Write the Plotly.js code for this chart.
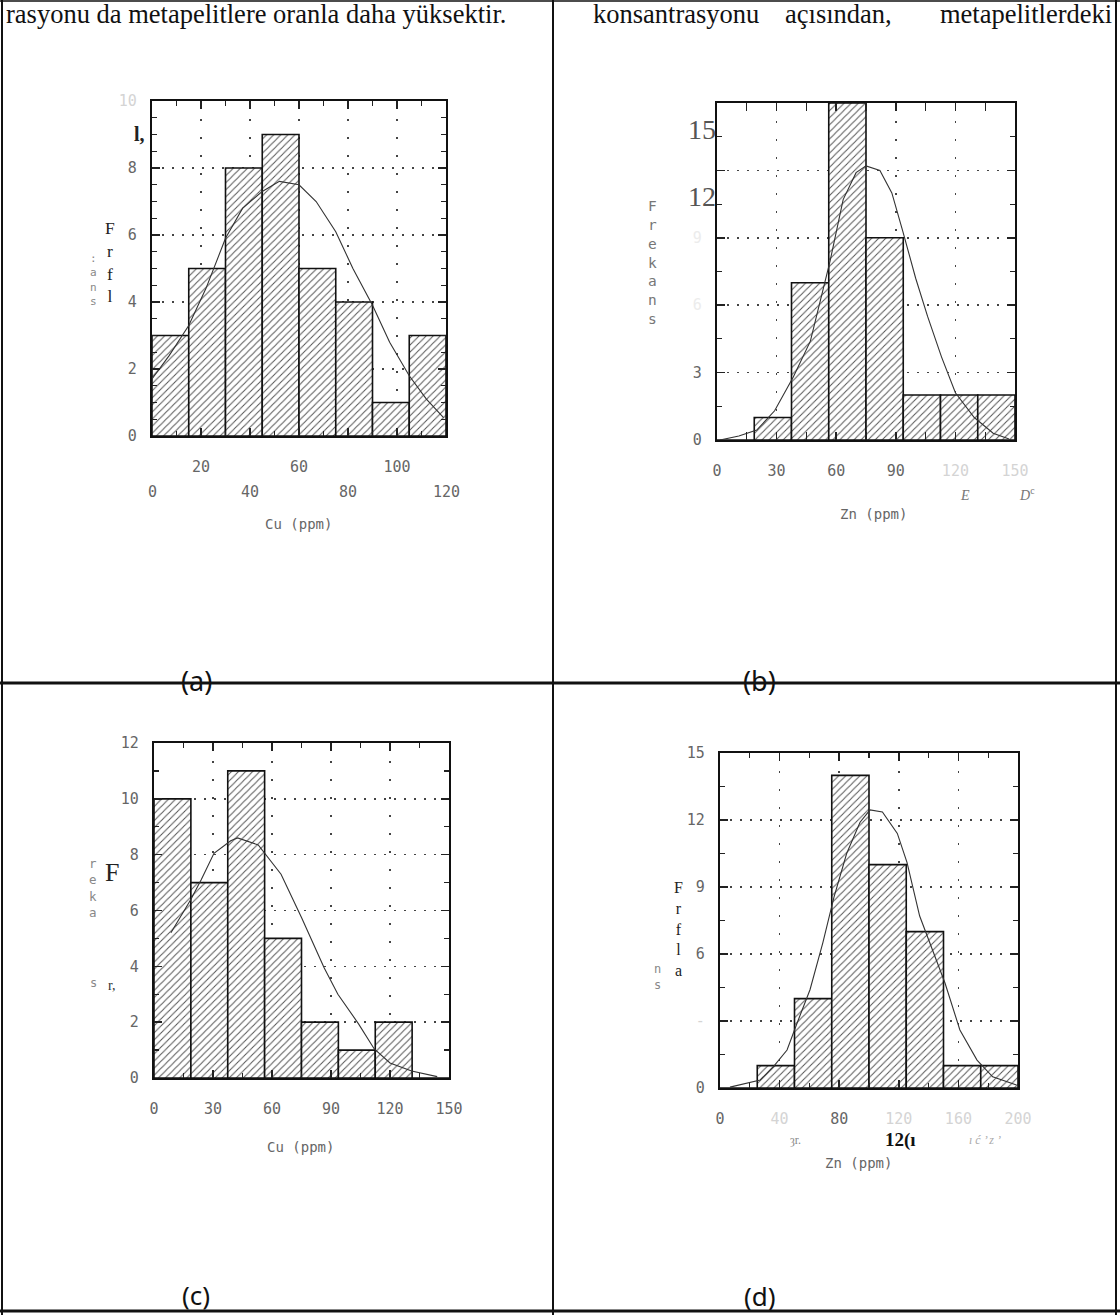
<!DOCTYPE html>
<html><head><meta charset="utf-8">
<script src="https://cdn.plot.ly/plotly-3.0.1.min.js"></script>
<style>html,body{margin:0;padding:0;background:#fff}#chart{width:1120px;height:1315px}</style>
</head><body><div id="chart"></div>
<script>
// ---------- DATA ----------
// (a) Cu histogram
const cuA_edges  = [0,15,30,45,60,75,90,105,120];
const cuA_counts = [3,5,8,9,5,4,1,3];
const cuA_curveX = [0,7,15,22,30,37,45,52,60,67,75,82,90,97,105,112,119];
const cuA_curveY = [1.7,2.4,3.3,4.4,5.9,6.8,7.3,7.6,7.5,7.0,6.1,5.0,3.9,2.8,1.8,1.1,0.55];
const cuA_xticks = [0,20,40,60,80,100,120];
const cuA_yticks = [0,2,4,6,8,10];

// (b) Zn histogram
const znB_edges  = [0,18.75,37.5,56.25,75,93.75,112.5,131.25,150];
const znB_counts = [0,1,7,15,9,2,2,2];
const znB_curveX = [1.5,11,20,29,38.4,47,57,63.5,70,75,82,88,93.5,100,106,113,120,129.5,139,147];
const znB_curveY = [0,0.18,0.44,1.3,2.8,4.4,8.0,10.7,11.9,12.2,12.0,11.0,9.3,7.2,5.5,3.7,2.1,1.0,0.3,0.04];
const znB_xticks = [0,30,60,90,120,150];
const znB_yticks = [0,3,6,9];
const znB_yticksUpper = [12,15];

// (c) Cu histogram
const cuC_edges  = [0,18.75,37.5,56.25,75,93.75,112.5,131.25,150];
const cuC_counts = [10,7,11,5,2,1,2,0];
const cuC_curveX = [8.6,18.8,24,30.5,39,42.5,53,58,64.6,75,86.5,93.5,104,112,120,131,144];
const cuC_curveY = [5.2,6.4,7.1,8.05,8.5,8.6,8.35,7.9,7.3,5.75,3.95,3.0,1.94,1.04,0.54,0.25,0.05];
const cuC_xticks = [0,30,60,90,120,150];
const cuC_yticks = [0,2,4,6,8,10,12];

// (d) Zn histogram
const znD_edges  = [0,25,50,75,100,125,150,175,200];
const znD_counts = [0,1,4,14,10,7,1,1];
const znD_curveX = [6.7,18,27,35.6,45,51.7,60.4,69,76.5,85,94,100.7,109,119,125.5,134,141,151,161,172.5,183,199];
const znD_curveY = [0.04,0.2,0.36,0.94,1.7,2.9,4.4,6.5,8.55,10.5,11.9,12.45,12.36,11.4,10.1,7.7,6.5,4.7,2.6,1.25,0.5,0.13];
const znD_xticks = [0,40,80,120,160,200];
const znD_yticks = [0,3,6,9,12,15];

const axisTitle = 'Frekans';
const cuTitle = 'Cu (ppm)';
const znTitle = 'Zn (ppm)';
const panelLabels = ['(a)','(b)','(c)','(d)'];
const textLeft = 'rasyonu da metapelitlere oranla daha yüksektir.';
const textRight = ['konsantrasyonu','açısından,','metapelitlerdeki'];

// ---------- helpers ----------
const W = 1120, H = 1315;
const PX = p => p / W;
const PY = p => 1 - p / H;
const faint = t => '<span style="color:#d4d4d4">' + t + '</span>';
const DOT = '"DejaVu Sans Mono", monospace';
const SERIF = '"Liberation Serif", "DejaVu Serif", serif';

function bars(edges, counts, xa, ya) {
  const cx = [], w = [];
  for (let i = 0; i < counts.length; i++) {
    cx.push((edges[i] + edges[i+1]) / 2);
    w.push(edges[i+1] - edges[i]);
  }
  return {
    type: 'bar', x: cx, y: counts, width: w, xaxis: xa, yaxis: ya,
    marker: {color: 'white', line: {color: '#111', width: 1.6},
      pattern: {shape: '/', fgcolor: '#555', bgcolor: 'white', size: 5, solidity: 0.2}},
    hoverinfo: 'skip', showlegend: false
  };
}
function curve(xs, ys, xa, ya) {
  return {type: 'scatter', mode: 'lines', x: xs, y: ys, xaxis: xa, yaxis: ya,
    line: {color: '#333', width: 1.1}, hoverinfo: 'skip', showlegend: false};
}
function xax(l, r, range, vals, text, anchor, dmin, standoff) {
  return {domain: [PX(l), PX(r)], range: range, anchor: anchor,
    tickmode: 'array', tickvals: vals, ticktext: text,
    ticks: 'inside', ticklen: 8, tickwidth: 1.5, tickcolor: '#222',
    minor: {ticks: 'inside', ticklen: 5, tickwidth: 1.2, tickcolor: '#222', dtick: dmin, showgrid: false},
    showline: true, linewidth: 2.2, linecolor: '#111', mirror: 'allticks',
    showgrid: true, gridcolor: '#444', gridwidth: 1.5, griddash: '2px,16px',
    zeroline: false, fixedrange: true, ticklabelstandoff: standoff,
    tickfont: {family: DOT, size: 15, color: '#666'}};
}
function yax(t, b, range, vals, text, anchor, dmin) {
  return {domain: [PY(b), PY(t)], range: range, anchor: anchor,
    tickmode: 'array', tickvals: vals, ticktext: text,
    ticks: 'inside', ticklen: 8, tickwidth: 1.5, tickcolor: '#222',
    minor: {ticks: 'inside', ticklen: 5, tickwidth: 1.2, tickcolor: '#222', dtick: dmin, showgrid: false},
    showline: true, linewidth: 2.2, linecolor: '#111', mirror: 'allticks',
    showgrid: true, gridcolor: '#444', gridwidth: 1.5, griddash: '2px,8px',
    zeroline: false, fixedrange: true, ticklabelstandoff: 10,
    tickfont: {family: DOT, size: 15, color: '#666'}};
}

const data = [
  bars(cuA_edges, cuA_counts, 'x', 'y'),  curve(cuA_curveX, cuA_curveY, 'x', 'y'),
  bars(znB_edges, znB_counts, 'x2', 'y2'), curve(znB_curveX, znB_curveY, 'x2', 'y5'),
  bars(cuC_edges, cuC_counts, 'x3', 'y3'), curve(cuC_curveX, cuC_curveY, 'x3', 'y3'),
  bars(znD_edges, znD_counts, 'x4', 'y4'), curve(znD_curveX, znD_curveY, 'x4', 'y4')
];

// tick texts (panel a is staggered: odd ticks on the first row, even ticks on a second row)
const aX = cuA_xticks.map((v, i) => i % 2 === 1 ? String(v) : '');
const aRow2 = cuA_xticks.filter((v, i) => i % 2 === 0);
const aY = cuA_yticks.map(v => v === 10 ? faint('10') : String(v));
const bX = znB_xticks.map(v => v >= 120 ? faint(String(v)) : String(v));
const bY = znB_yticks.map(v => v <= 3 ? String(v) : '<span style="color:#ececec">' + v + '</span>');
const bYUpper = znB_yticksUpper.map(String);
const cX = cuC_xticks.map(String);
const cY = cuC_yticks.map(String);
const dX = znD_xticks.map(v => (v === 0 || v === 80) ? String(v) : faint(String(v)));
const dY = znD_yticks.map(v => v === 3 ? faint('-') : String(v));

// annotations
const notes = [];
function note(t, x, y, size, family, color, o) {
  notes.push(Object.assign({text: t, x: PX(x), y: PY(y), xref: 'paper', yref: 'paper',
    showarrow: false, xanchor: 'center', yanchor: 'middle',
    font: {family: family, size: size, color: color}}, o || {}));
}
// second row of x tick labels in panel (a)
aRow2.forEach(v => notes.push({text: String(v), x: v, xref: 'x', y: PY(492), yref: 'paper',
  showarrow: false, xanchor: 'center', yanchor: 'middle', font: {family: DOT, size: 15, color: '#666'}}));
// running text of the page
note(textLeft, 4, 14, 26.5, SERIF, '#111', {xanchor: 'left'});
note(textRight[0], 591, 14, 26.5, SERIF, '#111', {xanchor: 'left'});
note(textRight[1], 783, 14, 26.5, SERIF, '#111', {xanchor: 'left'});
note(textRight[2], 1114, 14, 26.5, SERIF, '#111', {xanchor: 'right'});
// panel letters
note(panelLabels[0], 196, 680, 27, '"Noto Sans", sans-serif', '#111');
note(panelLabels[1], 759, 680, 27, '"Noto Sans", sans-serif', '#111');
note(panelLabels[2], 196, 1295, 26, '"Noto Sans", sans-serif', '#111');
note(panelLabels[3], 760, 1296, 26, '"Noto Sans", sans-serif', '#111');
// axis titles
note(cuTitle, 298, 524, 14, DOT, '#666');
note(znTitle, 873, 514, 14, DOT, '#666');
note(cuTitle, 300, 1147, 14, DOT, '#666');
note(znTitle, 858, 1163, 14, DOT, '#666');
// y title remnants (a)
note(':<br>a<br>n<br>s', 93, 280, 11, DOT, '#888');
note('F<br>r<br>f<br>l', 110, 262, 17.5, SERIF, '#222');
note('<b>l,</b>', 139, 134, 20, SERIF, '#222');
// y title remnants (b)
note(axisTitle.split('').join('<br>'), 652, 262, 14.5, DOT, '#777');
note('<i>E</i>', 965, 496, 14, SERIF, '#777');
note('<i>D</i><sup>c</sup>', 1027, 494, 14, SERIF, '#777');
// y title remnants (c)
note('r<br>e<br>k<br>a', 93, 888, 12.5, DOT, '#888');
note('s', 93, 983, 12, DOT, '#888');
note('F', 112, 872, 26, SERIF, '#222');
note('r,', 112, 985, 14, SERIF, '#333');
// y title remnants (d)
note('F<br>r<br>f<br>l<br>a', 678, 929, 16, SERIF, '#222');
note('n<br>s', 657, 977, 12, DOT, '#888');
note('ȝr.', 795, 1140, 12, SERIF, '#888');
note('<b>12(ı</b>', 900, 1140, 19, SERIF, '#111');
note('<i>ı ć ’ z ’</i>', 985, 1140, 12, SERIF, '#aaa');

// page frame lines
const line = (x0, y0, x1, y1, w) => ({type: 'line', xref: 'paper', yref: 'paper',
  x0: PX(x0), y0: PY(y0), x1: PX(x1), y1: PY(y1), line: {color: '#111', width: w}});
const shapes = [
  line(0, 1, 1120, 1, 1.5),
  line(2, 0, 2, 1315, 2),
  line(553, 0, 553, 1315, 2),
  line(1116, 0, 1116, 1315, 2),
  line(0, 683, 1120, 683, 3),
  line(0, 1311, 1120, 1311, 3)
];

// upper y labels of panel (b): printed lower and in a serif face on the scan
const yUpperB = {domain: [PY(440), PY(103)], range: [0, 15], anchor: 'x2', overlaying: 'y2', side: 'left',
  tickmode: 'array', tickvals: znB_yticksUpper, ticktext: bYUpper,
  ticks: 'inside', ticklen: 8, tickwidth: 1.5, tickcolor: '#222',
  showline: false, mirror: 'allticks',
  showgrid: true, gridcolor: '#444', gridwidth: 1.5, griddash: '2px,8px',
  zeroline: false, fixedrange: true, ticklabelstandoff: 0, ticklabelshift: 26,
  tickfont: {family: SERIF, size: 28, color: '#555'}};

const layout = {
  width: W, height: H, margin: {l: 0, r: 0, t: 0, b: 0},
  paper_bgcolor: 'white', plot_bgcolor: 'white', showlegend: false, bargap: 0,
  xaxis:  xax(152, 446, [0, 120], cuA_xticks, aX, 'y', 10, 16),
  yaxis:  yax(101, 436, [0, 10], cuA_yticks, aY, 'x', 0.5),
  xaxis2: xax(717, 1015, [0, 150], znB_xticks, bX, 'y2', 15, 16),
  yaxis2: yax(103, 440, [0, 15], znB_yticks, bY, 'x2', 1.5),
  xaxis3: xax(154, 449, [0, 150], cuC_xticks, cX, 'y3', 15, 16),
  yaxis3: yax(743, 1078, [0, 12], cuC_yticks, cY, 'x3', 1),
  xaxis4: xax(720, 1018, [0, 200], znD_xticks, dX, 'y4', 20, 16),
  yaxis4: yax(753, 1088, [0, 15], znD_yticks, dY, 'x4', 1.5),
  yaxis5: yUpperB,
  annotations: notes, shapes: shapes
};

Plotly.newPlot('chart', data, layout, {staticPlot: true, displayModeBar: false});
</script>
</body></html>
